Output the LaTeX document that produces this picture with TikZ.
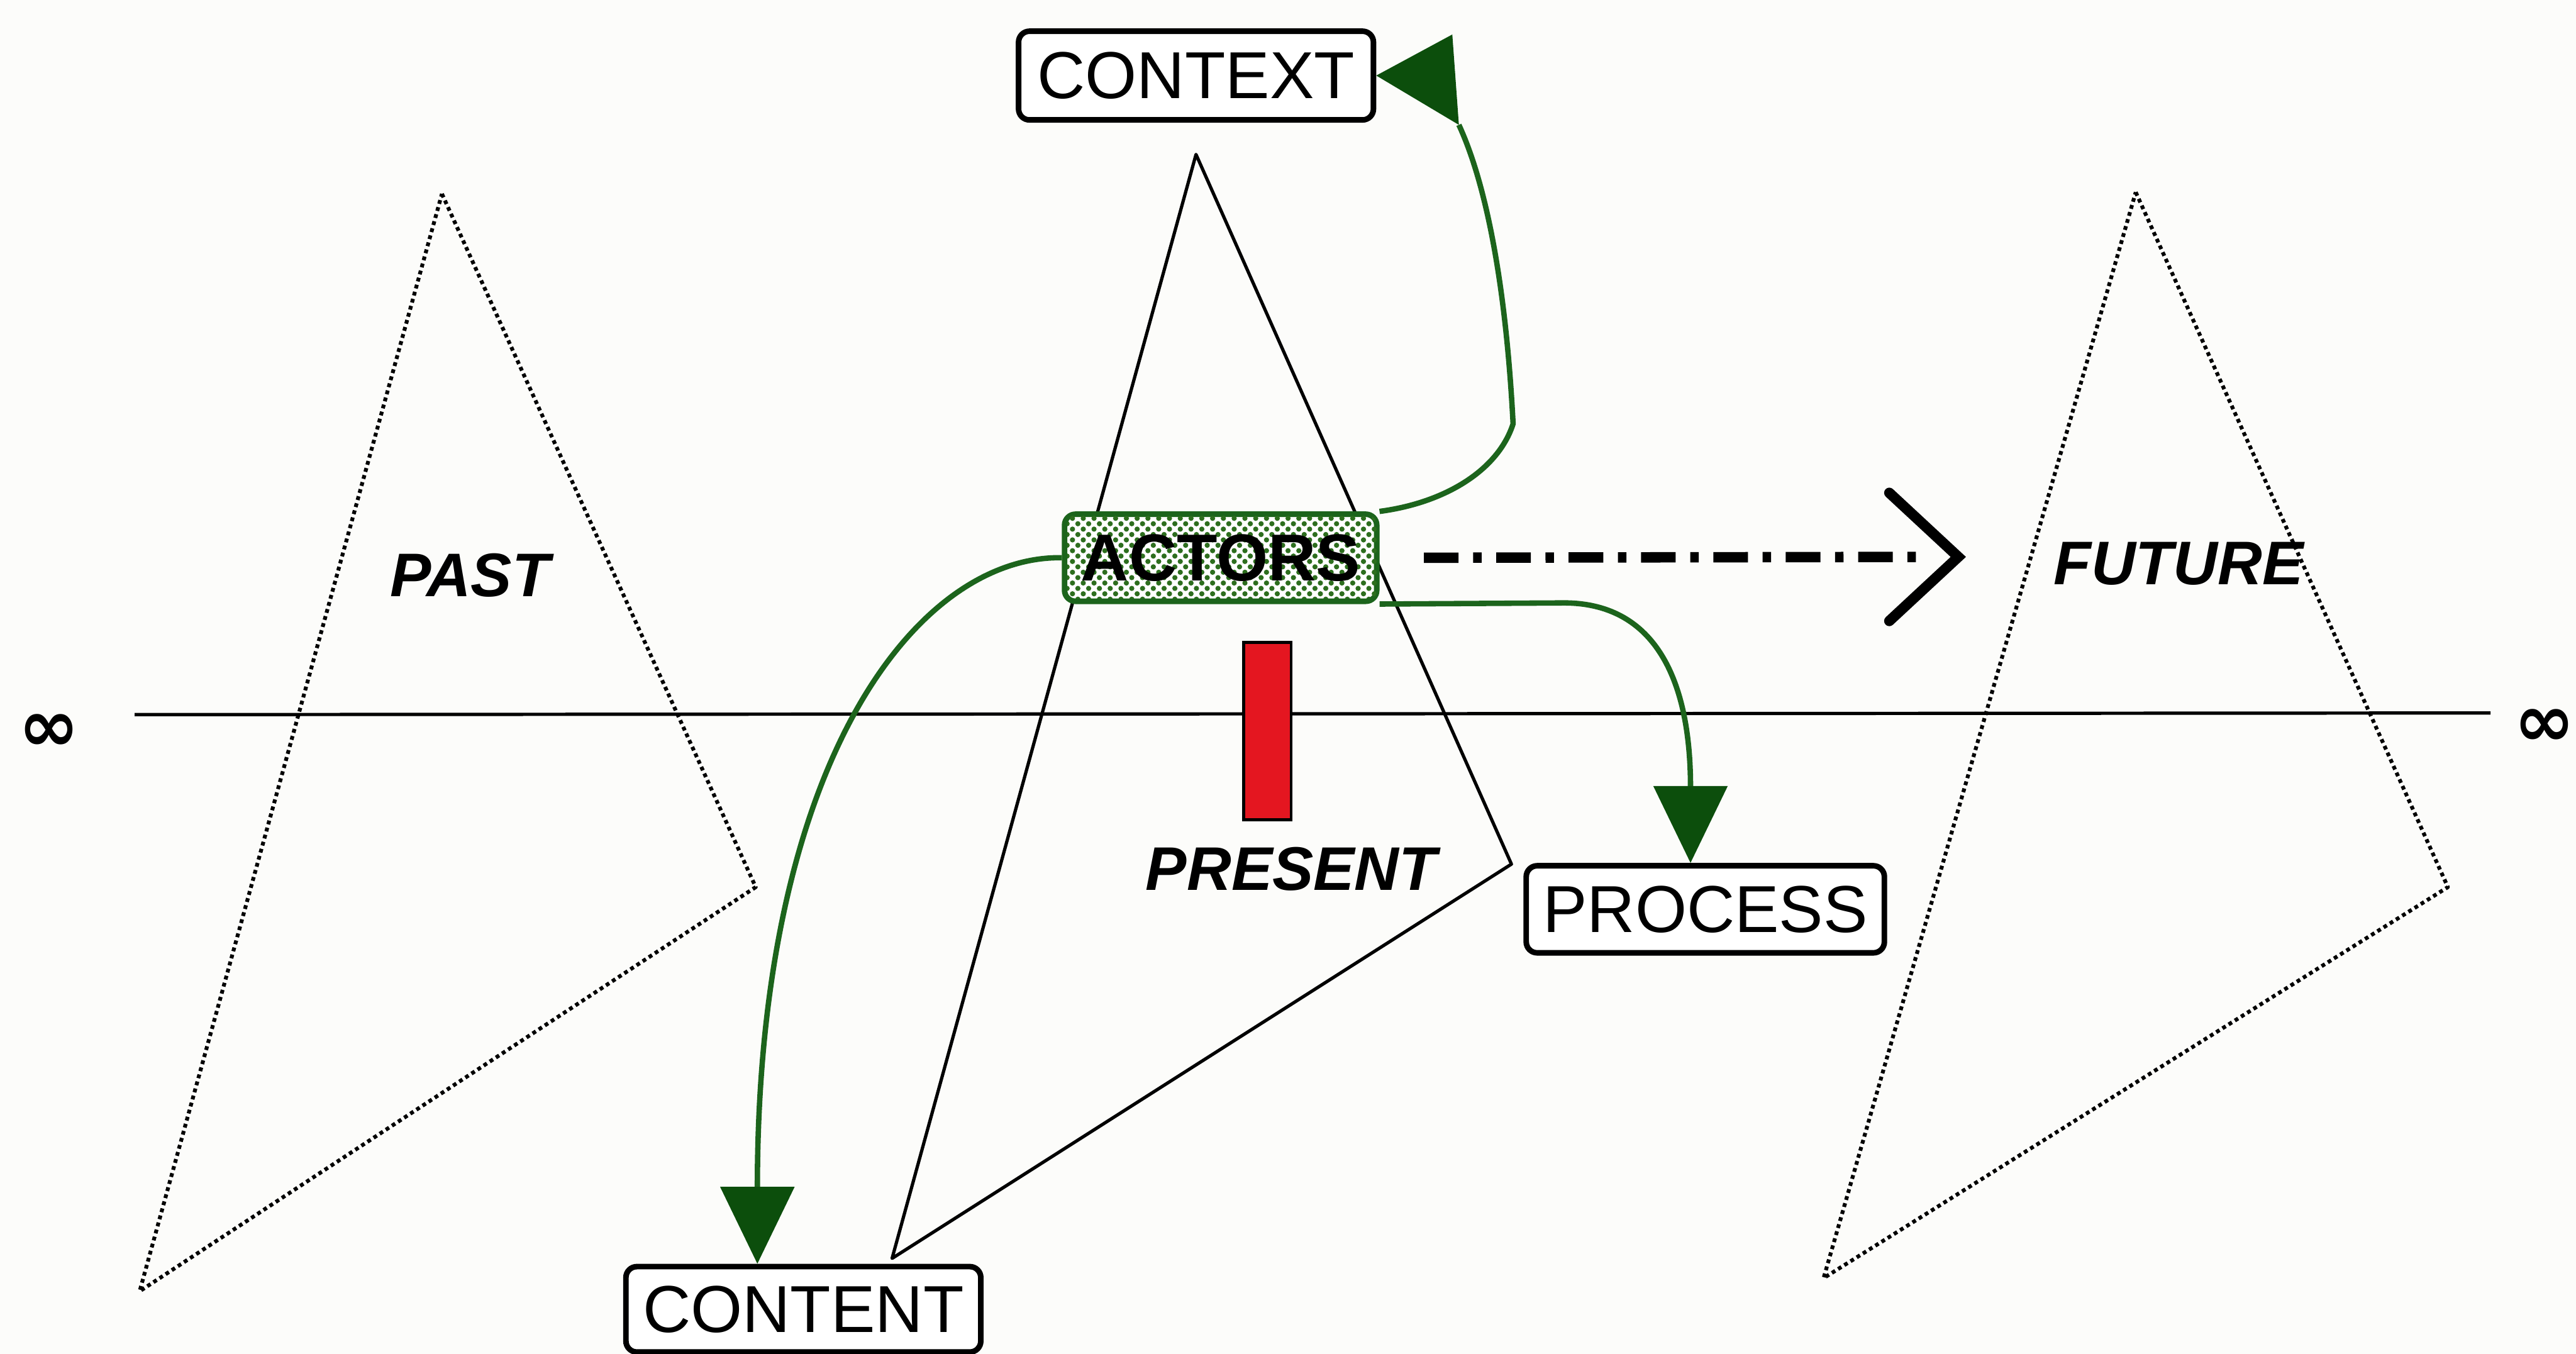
\documentclass[tikz,border=0pt]{standalone}
\usepackage{fontspec}
\setmainfont{Liberation Sans}
\newfontfamily\symfont{DejaVu Sans}
\usetikzlibrary{arrows.meta,patterns.meta,calc}

\definecolor{gline}{RGB}{28,100,28}
\definecolor{ghead}{RGB}{12,78,12}
\definecolor{dotgreen}{RGB}{45,110,30}
\definecolor{barred}{RGB}{228,22,32}
\definecolor{paper}{RGB}{252,252,250}

\begin{document}
\begin{tikzpicture}[x=0.03cm,y=-0.03cm,
  box/.style={draw=black, line width=2.9pt, rounded corners=0.2cm, fill=white,
    inner sep=0pt, minimum height=1.59cm, font=\fontsize{34.5}{40}\selectfont},
  actorbox/.style={draw=gline, line width=2.9pt, rounded corners=0.2cm,
    inner sep=0pt, minimum width=5.7cm, minimum height=1.59cm,
    preaction={fill=white},
    pattern={Dots[distance=5.6pt,radius=1.35pt]}, pattern color=dotgreen,
    postaction={pattern={Dots[distance=5.6pt,radius=1.35pt,xshift=2.8pt,yshift=2.8pt]},
      pattern color=dotgreen},
    font=\fontsize{34.5}{40}\selectfont\bfseries},
  era/.style={inner sep=0pt, font=\fontsize{32}{38}\selectfont\bfseries\itshape},
  inf/.style={inner sep=0pt, font=\symfont\bfseries\fontsize{38}{38}\selectfont},
  treeline/.style={line width=1.7pt, line join=round},
  dottree/.style={line width=2pt, dash pattern=on 2pt off 1.8pt, line join=round},
  gconn/.style={draw=gline, line width=2.8pt},
  gtip/.style={-{Triangle[length=40pt,width=38pt,color=ghead]}},
  dashdot/.style={line width=5.4pt, dash pattern=on 18pt off 7.6pt on 4.4pt off 7.6pt},
  chevron/.style={line width=5.4pt, line cap=round, line join=miter}
]
\useasboundingbox (0,0) rectangle (1568,824);
\fill[paper] (0,0) rectangle (1568,824);

% time axis with its two infinity marks
\node[inf] (infl) at (30,446) {∞};
\node[inf] (infr) at (1549,443) {∞};
\draw[line width=1.7pt] (82,435) -- (1516,434);

% the three trees
\draw[dottree] (269,118) -- (460,540) -- (85,786) -- cycle;
\draw[treeline] (728,94) -- (920,526) -- (543,766) -- cycle;
\draw[dottree] (1300,117) -- (1490,540) -- (1110,778) -- cycle;

% tree labels
\node[era] (past) at (286,350) {PAST};
\node[era] (present) at (786,529) {PRESENT};
\node[era] (future) at (1326,343) {FUTURE};

% marker of the present moment
\node[draw=black, line width=1.4pt, fill=barred, inner sep=0pt,
      minimum width=0.87cm, minimum height=3.24cm] (now) at (771.5,445) {};

% boxes
\node[box, minimum width=6.48cm, minimum height=1.62cm] (context) at (728,46) {CONTEXT};
\node[actorbox] (actors) at (743,339.5) {ACTORS};
\node[box, minimum width=6.54cm] (process) at (1038,553.5) {PROCESS};
\node[box, minimum width=6.48cm, minimum height=1.56cm] (content) at (489,797) {CONTENT};

% actors -> context
\coordinate (ctxbase) at (888,76);
\draw[gconn] (actors.north east) .. controls (880,306) and (912,286) .. (921,258)
  .. controls (917,180) and (906,115) .. (ctxbase);
\fill[ghead] (context.east) -- (884,21) -- (ctxbase) -- cycle;

% actors -> process
\draw[gconn, gtip] (actors.south east) -- (952,367)
  .. controls (1005,367) and (1029,410) .. ([xshift=-0.27cm]process.north);

% actors -> content
\draw[gconn, gtip] (actors.west)
  .. controls (560,338) and (461,460) .. ([xshift=-0.84cm]content.north);

% actors -> future
\coordinate (dstart) at ($(actors.east)+(27,0)$);
\coordinate (dtip) at (1192,339);
\draw[dashdot] (dstart) -- ($(dtip)+(-22,0)$);
\draw[chevron] ($(dtip)+(-42,-39)$) -- (dtip) -- ($(dtip)+(-42,39)$);
\end{tikzpicture}
\end{document}
